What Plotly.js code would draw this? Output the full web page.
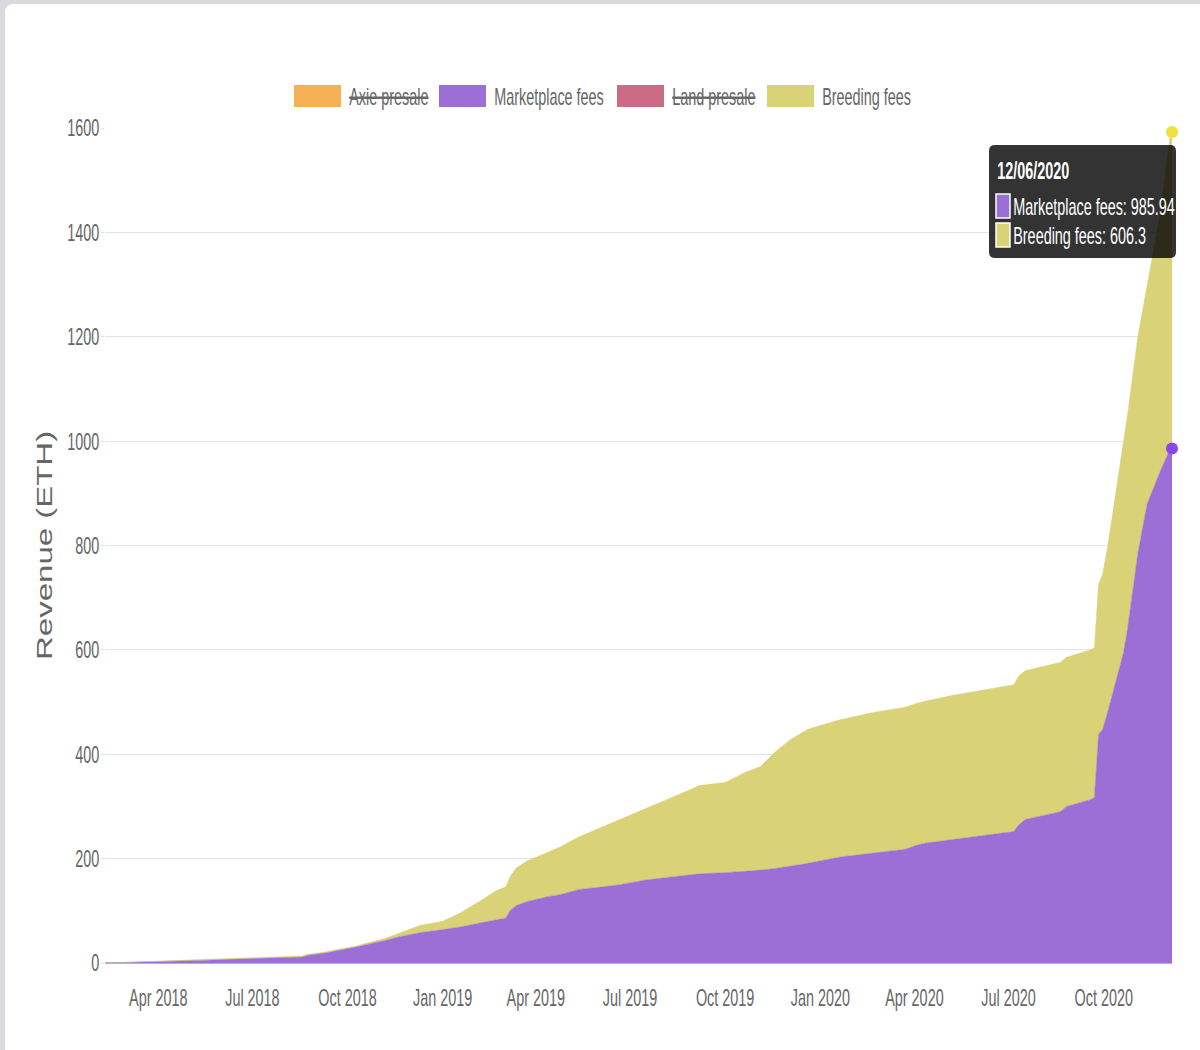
<!DOCTYPE html>
<html><head><meta charset="utf-8">
<script src="https://cdn.plot.ly/plotly-3.0.1.min.js"></script>
<style>
html,body{margin:0;padding:0;background:#d9d9de;width:1200px;height:1050px;overflow:hidden;}
#wrap{position:absolute;left:5px;top:4px;width:1195px;height:1046px;background:#fff;border-radius:8px 0 0 0;overflow:hidden;}
#chart{width:1195px;height:1046px;}
</style></head><body><div id="wrap"><div id="chart"></div></div>
<script>
// ---- data (cumulative revenue, ETH) ----
const dates = [
 '2018-02-16','2018-03-05','2018-04-01','2018-04-22','2018-05-11','2018-06-09','2018-07-08','2018-08-06',
 '2018-08-18','2018-08-24','2018-09-09','2018-09-24','2018-10-08','2018-10-23','2018-11-06','2018-11-21',
 '2018-12-10','2019-01-01','2019-01-18','2019-02-07','2019-02-21','2019-03-03','2019-03-07','2019-03-13',
 '2019-03-24','2019-04-10','2019-04-24','2019-05-13','2019-06-01','2019-06-21','2019-07-16','2019-08-08',
 '2019-08-28','2019-09-06','2019-10-01','2019-10-20','2019-11-04','2019-11-18','2019-12-03','2019-12-20',
 '2020-01-20','2020-02-21','2020-03-23','2020-04-02','2020-04-12','2020-05-06','2020-05-30','2020-07-06',
 '2020-07-11','2020-07-17','2020-08-20','2020-08-26','2020-09-18','2020-09-22','2020-09-26','2020-09-30',
 '2020-10-05','2020-10-11','2020-10-20','2020-10-24','2020-11-03','2020-11-12','2020-11-25','2020-12-04',
 '2020-12-06'];
const marketplaceFees = [
 0.3,1.0,2.0,3.5,5.0,7.0,8.5,10.0,
 11.5,15.0,19.0,25.0,30.0,37.0,43.0,51.0,
 58.0,64.0,69.0,77.0,82.0,86.0,100.0,110.0,
 118.0,126.0,131.0,141.0,145.0,150.0,159.0,164.0,
 169.0,171.0,173.0,175.0,178.0,181.0,186.0,191.0,
 203.0,210.0,218.0,225.0,230.0,236.0,242.0,252.0,
 265.0,275.0,290.0,300.0,313.0,317.0,438.0,448.0,
 482.0,528.0,594.0,640.0,785.0,880.0,944.0,984.0,
 985.94];
const breedingFees = [
 0.1,0.4,1.0,1.5,1.5,1.5,1.5,2.0,
 2.0,2.0,2.0,2.0,2.0,3.0,4.0,7.0,
 14.0,16.0,27.0,43.0,56.0,60.0,65.0,72.0,
 78.0,84.0,91.0,101.0,113.0,124.0,137.0,150.0,
 163.0,169.0,173.0,190.0,198.0,223.0,242.0,257.0,
 263.0,270.0,272.0,272.0,272.0,276.0,278.0,281.0,
 285.0,285.0,286.0,286.0,287.0,287.0,288.0,297.0,
 318.0,352.0,406.0,410.0,415.0,420.0,496.0,596.0,
 606.3];
const legendLabels = ['Axie presale','Marketplace fees','Land presale','Breeding fees'];
const legendHidden = [true,false,true,false];
const yTitle = 'Revenue (ETH)';

// ---- styles ----
const legendColors = ['#f4b052','#9b6fd6','#cc6b86','#d9d277'];
const FONT = '"Liberation Sans",Arial,Helvetica,sans-serif';
const GREY = '#666666';
const FS = 24;     // font size of labels
const SX = 0.60;   // horizontal condensing of text
const SX_TITLE = 0.68;

// pixel -> paper helpers (plot area in page px: x 105..1172, y 128..963)
const PX0=105, PX1=1172, PY0=128, PY1=963;
const px2x = p => (p-PX0)/(PX1-PX0);
const py2y = p => (PY1-p)/(PY1-PY0);

const totals = marketplaceFees.map((m,i)=>m+breedingFees[i]);
const last = dates.length-1;

const traces = [
 {x:dates, y:marketplaceFees, type:'scatter', mode:'lines', stackgroup:'s',
  line:{width:0.5,color:legendColors[1]}, fillcolor:legendColors[1], hoverinfo:'skip', showlegend:false},
 {x:dates, y:breedingFees, type:'scatter', mode:'lines', stackgroup:'s',
  line:{width:0.5,color:legendColors[3]}, fillcolor:legendColors[3], hoverinfo:'skip', showlegend:false},
 {x:[dates[last]], y:[marketplaceFees[last]], type:'scatter', mode:'markers', cliponaxis:false,
  marker:{size:12,color:'#8a46ef'}, hoverinfo:'skip', showlegend:false},
 {x:[dates[last]], y:[totals[last]], type:'scatter', mode:'markers', cliponaxis:false,
  marker:{size:12,color:'#f1df3e'}, hoverinfo:'skip', showlegend:false}
];

const shapes = [];
const annotations = [];
const annAnchorPx = [];
const annScale = [];

// custom legend
const legBoxX = [294,439,617,767];
legendLabels.forEach((lab,i)=>{
  shapes.push({type:'rect', xref:'paper', yref:'paper',
    x0:px2x(legBoxX[i]), x1:px2x(legBoxX[i]+47), y0:py2y(107), y1:py2y(85),
    fillcolor:legendColors[i], line:{width:0}});
  annotations.push({xref:'paper', yref:'paper', x:px2x(legBoxX[i]+54), y:py2y(96),
    xanchor:'left', yanchor:'middle', showarrow:false, text:lab,
    font:{family:FONT, size:FS, color:GREY, lineposition: legendHidden[i] ? 'through' : 'none'}});
  annAnchorPx.push(legBoxX[i]+54); annScale.push(SX);
});

// y title
annotations.push({xref:'paper', yref:'paper', x:px2x(44), y:py2y(546), textangle:-90,
  xanchor:'center', yanchor:'middle', showarrow:false, text:yTitle,
  font:{family:FONT, size:33, color:GREY}});
annAnchorPx.push(44); annScale.push(SX_TITLE);

// tooltip
function rr(x0,y0,x1,y1,r){
  const P=(x,y)=>px2x(x).toFixed(5)+','+py2y(y).toFixed(5);
  return 'M'+P(x0+r,y0)+' L'+P(x1-r,y0)+' Q'+P(x1,y0)+' '+P(x1,y0+r)+
    ' L'+P(x1,y1-r)+' Q'+P(x1,y1)+' '+P(x1-r,y1)+' L'+P(x0+r,y1)+' Q'+P(x0,y1)+' '+P(x0,y1-r)+
    ' L'+P(x0,y0+r)+' Q'+P(x0,y0)+' '+P(x0+r,y0)+' Z';
}
shapes.push({type:'path', xref:'paper', yref:'paper', layer:'above', path:rr(989,145,1176,258,6),
  fillcolor:'rgba(0,0,0,0.8)', line:{width:0}});
const d = dates[last].split('-');
const ttTitle = d[1]+'/'+d[2]+'/'+d[0];
annotations.push({xref:'paper', yref:'paper', x:px2x(996), y:py2y(170), xanchor:'left', yanchor:'middle',
  showarrow:false, text:'<b>'+ttTitle+'</b>', font:{family:FONT, size:FS, color:'#ffffff'}});
annAnchorPx.push(996); annScale.push(SX);
const ttRows = [[legendLabels[1], marketplaceFees[last], legendColors[1], 206],
                [legendLabels[3], breedingFees[last], legendColors[3], 235]];
ttRows.forEach(r=>{
  shapes.push({type:'rect', xref:'paper', yref:'paper', layer:'above',
    x0:px2x(996), x1:px2x(1010), y0:py2y(r[3]+12), y1:py2y(r[3]-12),
    fillcolor:r[2], line:{width:1.5,color:'#ffffff'}});
  annotations.push({xref:'paper', yref:'paper', x:px2x(1012), y:py2y(r[3]), xanchor:'left', yanchor:'middle',
    showarrow:false, text:r[0]+': '+r[1], font:{family:FONT, size:FS, color:'#ffffff'}});
  annAnchorPx.push(1012); annScale.push(SX);
});

const layout = {
  width:1195, height:1046,
  margin:{l:100, r:28, t:124, b:87, pad:0},
  paper_bgcolor:'rgba(0,0,0,0)', plot_bgcolor:'#ffffff',
  showlegend:false,
  xaxis:{type:'date', range:['2018-02-08 12:00','2020-12-06'], showgrid:false, zeroline:false,
    showline:false, dtick:'M3', tick0:'2018-01-01', tickformat:'%b %Y', tickangle:0,
    ticks:'outside', ticklen:13, tickcolor:'rgba(0,0,0,0)',
    tickfont:{family:FONT, size:FS, color:GREY}, fixedrange:true},
  yaxis:{range:[0,1600], dtick:200, showgrid:true, gridcolor:'#e3e3e3', gridwidth:1,
    zeroline:true, zerolinecolor:'#b5b5b5', zerolinewidth:1.5, showline:false,
    ticks:'outside', ticklen:3, tickcolor:'#e3e3e3',
    tickfont:{family:FONT, size:FS, color:GREY}, fixedrange:true},
  shapes:shapes, annotations:annotations,
  hovermode:false
};
Plotly.newPlot('chart', traces, layout, {displayModeBar:false, staticPlot:true}).then(()=>{
  // condense tick labels horizontally around their anchor point
  document.querySelectorAll('#chart g.xtick text, #chart g.ytick text').forEach(t=>{
    const X = parseFloat(t.getAttribute('x'))||0;
    const isY = !!t.closest('g.ytick');
    const tr = t.getAttribute('transform')||'';
    t.setAttribute('transform', tr+(isY?' translate(3,0)':'')+' translate('+X+',0) scale('+SX+',1) translate('+(-X)+',0)');
  });
  // condense annotation texts around their anchor (screen space)
  document.querySelectorAll('#chart g.annotation').forEach(g=>{
    const i = +g.getAttribute('data-index');
    const ax = annAnchorPx[i]-5, s = annScale[i];
    g.setAttribute('transform','translate('+ax+',0) scale('+s+',1) translate('+(-ax)+',0)');
  });
});
</script></body></html>
